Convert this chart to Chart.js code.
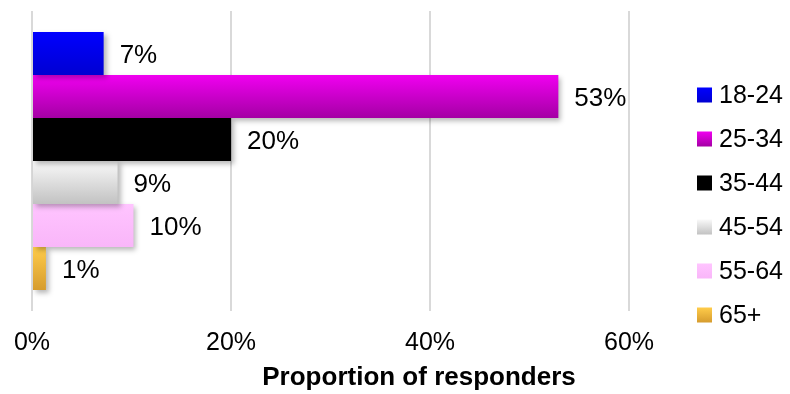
<!DOCTYPE html>
<html>
<head>
<meta charset="utf-8">
<script src="https://cdn.jsdelivr.net/npm/chart.js@4/dist/chart.umd.min.js"></script>
<style>
  html, body { margin: 0; padding: 0; background: #fff; }
  #wrap { width: 790px; height: 394px; }
</style>
</head>
<body>
<div id="wrap"><canvas id="ageChart"></canvas></div>
<script>
const ageGroups = ["18-24", "25-34", "35-44", "45-54", "55-64", "65+"];
const shares = [7.2, 52.9, 20.0, 8.6, 10.2, 1.4];
const xTicks = [0, 20, 40, 60];
const axisTitle = "Proportion of responders";

const topColors = ["#0000ff", "#f000f0", "#000000", "#f9f9f9", "#ffc4ff", "#ffcc4a"];
const bottomColors = ["#0000d2", "#a400a4", "#000000", "#c2c2c2", "#f9b6f9", "#d69c2e"];

const FONT = "'Liberation Sans', Arial, sans-serif";
const CAT_PCT = 0.86;

function barFill(i) {
  return function (c) {
    const chart = c.chart;
    const y = chart.scales.y;
    if (!y || !chart.chartArea) return topColors[i];
    const group = y.height * CAT_PCT;
    const h = group / ageGroups.length;
    const top = y.getPixelForValue(0) - group / 2 + i * h;
    const g = chart.ctx.createLinearGradient(0, top, 0, top + h);
    g.addColorStop(0, topColors[i]);
    g.addColorStop(1, bottomColors[i]);
    return g;
  };
}

// soft shadow under bars + value labels at the bar ends
const barExtras = {
  id: "barExtras",
  beforeDatasetsDraw(chart) {
    const ctx = chart.ctx;
    ctx.save();
    ctx.shadowColor = "rgba(0,0,0,0.28)";
    ctx.shadowBlur = 5;
    ctx.shadowOffsetX = 3;
    ctx.shadowOffsetY = 3;
  },
  afterDatasetsDraw(chart) {
    const ctx = chart.ctx;
    ctx.restore();
    ctx.save();
    ctx.font = "26px " + FONT;
    ctx.fillStyle = "#000";
    ctx.textBaseline = "middle";
    ctx.textAlign = "left";
    chart.data.datasets.forEach((ds, i) => {
      const bar = chart.getDatasetMeta(i).data[0];
      if (!bar) return;
      ctx.fillText(Math.round(ds.data[0]) + "%", bar.x + 16, bar.y + 2);
    });
    ctx.restore();
  }
};

// legend on the right and the axis title (sits off-centre in the original)
const sideLegend = {
  id: "sideLegend",
  afterDraw(chart) {
    const ctx = chart.ctx;
    const x = 697, y0 = 95, step = 44, box = 15;
    ctx.save();
    ctx.font = "25px " + FONT;
    ctx.textBaseline = "middle";
    ctx.textAlign = "left";
    ageGroups.forEach((g, i) => {
      const y = y0 + i * step;
      const grad = ctx.createLinearGradient(0, y - box / 2, 0, y + box / 2);
      grad.addColorStop(0, topColors[i]);
      grad.addColorStop(1, bottomColors[i]);
      ctx.fillStyle = grad;
      ctx.fillRect(x, y - box / 2, box, box);
      ctx.fillStyle = "#000";
      ctx.fillText(g, x + box + 7, y + 1);
    });

    ctx.font = "bold 26px " + FONT;
    ctx.textAlign = "center";
    ctx.fillText(axisTitle, 419, 378);
    ctx.restore();
  }
};

new Chart(document.getElementById("ageChart").getContext("2d"), {
  type: "bar",
  data: {
    labels: [""],
    datasets: ageGroups.map((g, i) => ({
      label: g,
      data: [shares[i]],
      backgroundColor: barFill(i),
      borderWidth: 0,
      categoryPercentage: CAT_PCT,
      barPercentage: 1
    }))
  },
  options: {
    indexAxis: "y",
    responsive: true,
    maintainAspectRatio: false,
    animation: false,
    layout: { padding: { left: 32, top: 11, bottom: 19, right: 161 } },
    plugins: {
      tooltip: { enabled: false },
      legend: { display: false }
    },
    scales: {
      x: {
        min: xTicks[0],
        max: xTicks[xTicks.length - 1],
        afterBuildTicks: axis => { axis.ticks = xTicks.map(v => ({ value: v })); },
        afterFit: axis => { axis.paddingLeft = 0; axis.paddingRight = 0; },
        grid: { color: "#d9d9d9", lineWidth: 2, drawTicks: false },
        border: { display: false },
        ticks: {
          padding: 17,
          maxRotation: 0,
          color: "#000",
          font: { family: FONT, size: 25 },
          callback: v => v + "%"
        }
      },
      y: {
        display: false
      }
    }
  },
  plugins: [barExtras, sideLegend]
});
</script>
</body>
</html>
